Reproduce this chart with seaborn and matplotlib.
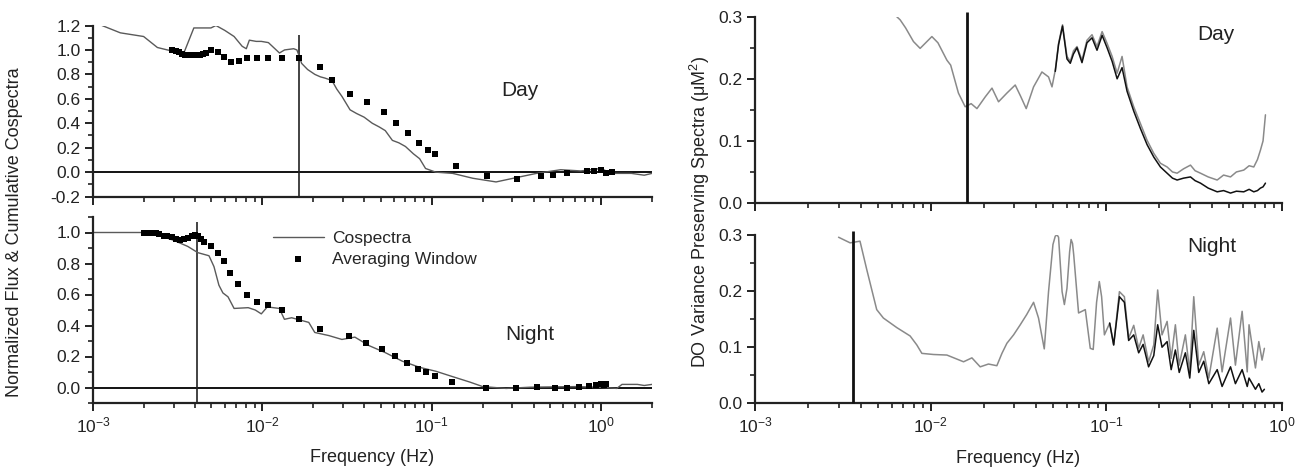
import numpy as np
import pandas as pd
import matplotlib
matplotlib.use("Agg")
import matplotlib.pyplot as plt
from matplotlib.ticker import LogLocator, MultipleLocator, NullFormatter, FormatStrFormatter
import seaborn as sns

# ---------------- cumulative cospectra (left column) ----------------
day_cosp_f = [0.00113, 0.00145, 0.00199, 0.00240, 0.00275, 0.00344, 0.00394, 0.00420,
              0.00497, 0.00532, 0.00600, 0.00681, 0.00760, 0.00804, 0.00838, 0.00920,
              0.00986, 0.01086, 0.01262, 0.01352, 0.01531, 0.01600, 0.01650, 0.01706,
              0.01850, 0.02042, 0.02200, 0.02339, 0.02576, 0.02750, 0.02951, 0.03296,
              0.03600, 0.0399, 0.0446, 0.0490, 0.0532, 0.0586, 0.0640, 0.0700, 0.0780,
              0.0849, 0.0920, 0.1057, 0.133, 0.175, 0.240, 0.303, 0.416, 0.578, 0.760,
              1.0, 1.15, 1.51, 1.80, 2.0]
day_cosp_v = [1.20, 1.14, 1.11, 1.02, 1.00, 0.975, 1.18, 1.18,
              1.18, 1.20, 1.16, 1.11, 1.03, 1.01, 1.08, 1.07,
              1.07, 1.06, 0.975, 1.00, 1.01, 1.00, 0.95, 0.89,
              0.84, 0.80, 0.78, 0.77, 0.75, 0.68, 0.62, 0.51,
              0.48, 0.45, 0.40, 0.37, 0.34, 0.26, 0.24, 0.21, 0.15,
              0.11, 0.03, 0.0, -0.01, -0.05, -0.08, -0.05, -0.01, 0.02, 0.01,
              0.03, -0.01, -0.01, -0.025, -0.01]

day_win_f = [0.00294, 0.00308, 0.00321, 0.00334, 0.00348, 0.00363, 0.00378, 0.00394,
             0.00410, 0.00428, 0.00446, 0.00464, 0.00497, 0.00547, 0.00594, 0.00654,
             0.00729, 0.00814, 0.00934, 0.01086, 0.01315, 0.01637, 0.02183, 0.02576,
             0.03296, 0.04160, 0.05248, 0.06190, 0.07295, 0.08373, 0.09462, 0.1042,
             0.139, 0.212, 0.321, 0.440, 0.518, 0.628, 0.826, 0.909, 1.0, 1.07, 1.16]
day_win_v = [1.00, 0.99, 0.98, 0.97, 0.96, 0.955, 0.955, 0.955,
             0.955, 0.96, 0.965, 0.975, 1.00, 0.98, 0.94, 0.90,
             0.91, 0.93, 0.93, 0.93, 0.93, 0.93, 0.86, 0.75,
             0.64, 0.57, 0.49, 0.40, 0.32, 0.24, 0.18, 0.15,
             0.05, -0.03, -0.06, -0.03, -0.025, -0.01, 0.01, 0.01, 0.02, -0.01, 0.0]

night_cosp_f = [0.001, 0.00199, 0.00240, 0.00299, 0.00363, 0.00416, 0.00484, 0.00518,
                0.00554, 0.00585, 0.00627, 0.00681, 0.00825, 0.00908, 0.00986, 0.0107,
                0.0126, 0.0135, 0.0149, 0.0188, 0.0204, 0.0247, 0.0295, 0.0352, 0.0427,
                0.0532, 0.0670, 0.0849, 0.1057, 0.133, 0.168, 0.200, 0.275, 0.383,
                0.718, 1.04, 1.24, 1.33, 1.64, 1.80, 2.0]
night_cosp_v = [1.00, 1.00, 0.985, 0.95, 0.91, 0.87, 0.85, 0.78,
                0.66, 0.61, 0.585, 0.51, 0.515, 0.50, 0.475, 0.52,
                0.51, 0.44, 0.45, 0.42, 0.355, 0.335, 0.31, 0.325, 0.27,
                0.225, 0.17, 0.13, 0.105, 0.07, 0.035, 0.006, -0.006, 0.002,
                0.006, 0.0, -0.006, 0.02, 0.02, 0.013, 0.02]

night_win_f = [0.00199, 0.00210, 0.00221, 0.00234, 0.00247, 0.00261, 0.00275, 0.00291,
               0.00308, 0.00325, 0.00344, 0.00363, 0.00383, 0.00399, 0.00416, 0.00434,
               0.00452, 0.00497, 0.00547, 0.00594, 0.00646, 0.00720, 0.00814, 0.00934,
               0.01086, 0.01298, 0.01637, 0.02183, 0.0325, 0.0410, 0.0510, 0.0611,
               0.0719, 0.0826, 0.0920, 0.1042, 0.1315, 0.2094, 0.316, 0.416, 0.532,
               0.628, 0.740, 0.849, 0.933, 1.0, 1.04, 1.07]
night_win_v = [1.00, 1.00, 1.00, 0.995, 0.99, 0.98, 0.975, 0.97,
               0.96, 0.95, 0.955, 0.965, 0.975, 0.985, 0.975, 0.96,
               0.94, 0.91, 0.87, 0.815, 0.74, 0.665, 0.60, 0.55,
               0.53, 0.50, 0.44, 0.375, 0.33, 0.285, 0.25, 0.205,
               0.157, 0.12, 0.10, 0.072, 0.035, -0.006, -0.006, 0.002, 0.0,
               0.0, 0.006, 0.01, 0.013, 0.02, 0.013, 0.024]

day_cut_left = 0.0164
night_cut_left = 0.00414

# ---------------- DO variance-preserving spectra (right column) ----------------
day_spec_f = [0.00641, 0.00670, 0.00720, 0.00798, 0.00871, 0.01016, 0.01100, 0.01237,
              0.01300, 0.01439, 0.01572, 0.01700, 0.01834, 0.02046, 0.02234, 0.02434,
              0.02716, 0.03029, 0.03250, 0.03499, 0.03853, 0.04299, 0.04688, 0.04906,
              0.05121, 0.05346, 0.05632, 0.05969, 0.06234, 0.06500, 0.06808, 0.07268,
              0.07757, 0.08290, 0.08850, 0.09462, 0.1010, 0.1079, 0.1152, 0.1229,
              0.1312, 0.1432, 0.1563, 0.1706, 0.1862, 0.2032, 0.2218, 0.2380, 0.2529,
              0.2750, 0.3013, 0.3200, 0.3435, 0.3800, 0.4276, 0.4650, 0.5093, 0.5500,
              0.6058, 0.6500, 0.6907, 0.7250, 0.7537, 0.7800, 0.8050]
day_spec_gray = [0.300, 0.295, 0.282, 0.260, 0.249, 0.268, 0.258, 0.230,
                 0.222, 0.177, 0.155, 0.160, 0.152, 0.171, 0.185, 0.163,
                 0.177, 0.190, 0.172, 0.152, 0.187, 0.211, 0.203, 0.187,
                 0.214, 0.257, 0.287, 0.236, 0.228, 0.245, 0.252, 0.230,
                 0.262, 0.271, 0.252, 0.276, 0.257, 0.236, 0.209, 0.236,
                 0.187, 0.155, 0.128, 0.101, 0.080, 0.064, 0.058, 0.050, 0.048,
                 0.055, 0.061, 0.052, 0.048, 0.042, 0.037, 0.045, 0.042, 0.050,
                 0.053, 0.060, 0.058, 0.070, 0.085, 0.100, 0.142]
day_spec_black = [np.nan] * 24 + [
                 0.212, 0.255, 0.285, 0.232, 0.225, 0.240, 0.250, 0.226,
                 0.258, 0.266, 0.246, 0.270, 0.250, 0.228, 0.200, 0.218,
                 0.180, 0.148, 0.120, 0.094, 0.074, 0.058, 0.048, 0.040, 0.037,
                 0.040, 0.042, 0.036, 0.032, 0.024, 0.018, 0.020, 0.016, 0.019,
                 0.018, 0.022, 0.018, 0.020, 0.024, 0.026, 0.032]

night_spec_f = [0.00299, 0.00348, 0.00396, 0.00433, 0.00493, 0.00538, 0.00641, 0.00764,
                0.00834, 0.00891, 0.01037, 0.01237, 0.0138, 0.01539, 0.01717, 0.01914,
                0.02133, 0.02381, 0.02545, 0.02716, 0.02965, 0.03236, 0.03518, 0.03853,
                0.04111, 0.04433, 0.04688, 0.04967, 0.05121, 0.05250, 0.05346, 0.0560,
                0.0577, 0.05969, 0.0618, 0.0630, 0.0642, 0.0652, 0.0695, 0.0759, 0.0810,
                0.0842, 0.0880, 0.0912, 0.0940, 0.0975, 0.1045, 0.1101, 0.1187, 0.1267,
                0.134, 0.1432, 0.1528, 0.1620, 0.174, 0.1862, 0.196, 0.2075, 0.2218,
                0.2339, 0.2472, 0.2600, 0.2818, 0.2985, 0.3145, 0.3357, 0.3585, 0.3832,
                0.4276, 0.456, 0.5093, 0.543, 0.593, 0.634, 0.6491, 0.706, 0.738, 0.770,
                0.794]
night_spec_gray = [0.296, 0.286, 0.289, 0.238, 0.167, 0.152, 0.135, 0.120,
                   0.104, 0.089, 0.087, 0.086, 0.080, 0.074, 0.081, 0.065,
                   0.070, 0.067, 0.089, 0.107, 0.122, 0.140, 0.158, 0.180,
                   0.152, 0.097, 0.199, 0.283, 0.298, 0.300, 0.296, 0.199,
                   0.176, 0.205, 0.270, 0.292, 0.285, 0.265, 0.161, 0.167, 0.098,
                   0.096, 0.180, 0.217, 0.190, 0.122, 0.143, 0.104, 0.199, 0.190,
                   0.116, 0.139, 0.098, 0.122, 0.074, 0.104, 0.202, 0.122, 0.146,
                   0.080, 0.140, 0.068, 0.122, 0.056, 0.190, 0.068, 0.092, 0.045,
                   0.134, 0.056, 0.152, 0.068, 0.164, 0.056, 0.140, 0.063, 0.110, 0.077,
                   0.098]
night_spec_black = [np.nan] * 46 + [
                   0.143, 0.104, 0.190, 0.180,
                   0.112, 0.122, 0.090, 0.105, 0.065, 0.085, 0.140, 0.100, 0.110,
                   0.060, 0.095, 0.055, 0.090, 0.045, 0.130, 0.055, 0.075, 0.035,
                   0.060, 0.030, 0.065, 0.035, 0.060, 0.030, 0.045, 0.025, 0.035, 0.020,
                   0.025]

day_cut_right = 0.0162
night_cut_right = 0.00361

# ---------------- styling ----------------
sns.set_style("ticks")
plt.rcParams["font.family"] = ["Liberation Sans", "DejaVu Sans"]
plt.rcParams["axes.unicode_minus"] = False
plt.rcParams["mathtext.fontset"] = "custom"
plt.rcParams["mathtext.rm"] = "Liberation Sans"
plt.rcParams["mathtext.it"] = "Liberation Sans:italic"

W, H = 1302, 467
fig = plt.figure(figsize=(W / 100, H / 100), dpi=100)


def px_axes(x0, y0, x1, y1):
    return fig.add_axes([x0 / W, 1 - y1 / H, (x1 - x0) / W, (y1 - y0) / H])


ax_tl = px_axes(93, 25.5, 652, 196.6)
ax_bl = px_axes(93, 217, 652, 403)
ax_tr = px_axes(755, 16.7, 1282, 203)
ax_br = px_axes(755, 235, 1282, 403.3)

TICK_FS = 12.5
TXT = "#222222"
for ax in (ax_tl, ax_bl, ax_tr, ax_br):
    ax.set_xscale("log")
    for s in ("top", "right"):
        ax.spines[s].set_visible(False)
    for s in ("left", "bottom"):
        ax.spines[s].set_linewidth(1.6)
        ax.spines[s].set_color(TXT)
    ax.xaxis.set_major_locator(LogLocator(base=10, numticks=10))
    ax.xaxis.set_minor_locator(LogLocator(base=10, subs=np.arange(2, 10), numticks=10))
    ax.xaxis.set_minor_formatter(NullFormatter())
    ax.tick_params(which="major", direction="out", length=6, width=1.4,
                   labelsize=TICK_FS, colors=TXT, pad=3)
    ax.tick_params(which="minor", direction="out", length=3.5, width=1.2, colors=TXT)
    ax.set_facecolor("white")

# left column
ax_tl.set_xlim(1e-3, 2)
ax_bl.set_xlim(1e-3, 2)
ax_tl.set_ylim(-0.2, 1.2)
ax_bl.set_ylim(-0.1, 1.1)
ax_tl.yaxis.set_major_locator(MultipleLocator(0.2))
ax_tl.yaxis.set_minor_locator(MultipleLocator(0.1))
ax_bl.set_yticks([0.0, 0.2, 0.4, 0.6, 0.8, 1.0])
ax_bl.yaxis.set_minor_locator(MultipleLocator(0.1))
ax_tl.yaxis.set_major_formatter(FormatStrFormatter("%.1f"))
ax_bl.yaxis.set_major_formatter(FormatStrFormatter("%.1f"))
ax_tl.tick_params(axis="x", labelbottom=False)

LINE_GRAY = "#5a5a5a"
panels_left = [
    (ax_tl, day_cosp_f, day_cosp_v, day_win_f, day_win_v, day_cut_left, (-0.2, 1.12)),
    (ax_bl, night_cosp_f, night_cosp_v, night_win_f, night_win_v, night_cut_left, (-0.1, 1.07)),
]
for ax, cf, cv, wf, wv, cut, vspan in panels_left:
    ax.axhline(0.0, color="black", lw=1.3, zorder=1)
    ax.vlines(cut, vspan[0], vspan[1], color=TXT, lw=1.2, zorder=1)
    sns.lineplot(x=cf, y=cv, ax=ax, color=LINE_GRAY, lw=1.0, sort=False,
                 estimator=None, label="Cospectra", zorder=2)
    sns.scatterplot(x=wf, y=wv, ax=ax, marker="s", s=16, color="black",
                    edgecolor="black", linewidth=0, label="Averaging Window", zorder=3)

ax_tl.get_legend().remove()
ax_bl.legend(loc="upper left", bbox_to_anchor=(0.31, 0.965), frameon=False,
             fontsize=12.5, handlelength=2.9, handletextpad=0.5,
             labelspacing=0.35, borderaxespad=0)

ax_tl.text(0.33, 0.67, "Day", fontsize=15, ha="center", va="center", color=TXT)
ax_bl.text(0.38, 0.34, "Night", fontsize=15, ha="center", va="center", color=TXT)
ax_tl.set_xlabel("")
ax_tl.set_ylabel("")
ax_bl.set_ylabel("")
ax_bl.set_xlabel("Frequency (Hz)", fontsize=13, labelpad=10, color=TXT)
fig.text(15 / W, 1 - 232 / H, "Normalized Flux & Cumulative Cospectra", rotation=90,
         ha="center", va="center", fontsize=13, color=TXT)

# right column
SPEC_GRAY = "#8a8a8a"
panels_right = [
    (ax_tr, day_spec_f, day_spec_gray, day_spec_black, day_cut_right),
    (ax_br, night_spec_f, night_spec_gray, night_spec_black, night_cut_right),
]
for ax, f, g, b, cut in panels_right:
    ax.set_xlim(1e-3, 1)
    ax.set_ylim(0, 0.3)
    ax.yaxis.set_major_locator(MultipleLocator(0.1))
    ax.yaxis.set_minor_locator(MultipleLocator(0.05))
    ax.yaxis.set_major_formatter(FormatStrFormatter("%.1f"))
    sns.lineplot(x=f, y=g, ax=ax, color=SPEC_GRAY, lw=1.1, sort=False, estimator=None, zorder=2)
    sns.lineplot(x=f, y=b, ax=ax, color="#111111", lw=1.1, sort=False, estimator=None, zorder=3)
    ax.vlines(cut, 0, 0.308, color="#111111", lw=2.0, zorder=4, clip_on=False)
    ax.set_ylabel("")

ax_tr.tick_params(axis="x", labelbottom=False)
ax_tr.set_xlabel("")
ax_tr.text(0.42, 0.272, "Day", fontsize=15, ha="center", va="center", color=TXT)
ax_br.text(0.40, 0.28, "Night", fontsize=15, ha="center", va="center", color=TXT)
ax_br.set_xlabel("Frequency (Hz)", fontsize=13, labelpad=10, color=TXT)
fig.text(700 / W, 1 - 212 / H, "DO Variance Preserving Spectra (\u03bcM$^2$)", rotation=90,
         ha="center", va="center", fontsize=13, color=TXT)

fig.savefig("out.png", dpi=100, facecolor="white")
